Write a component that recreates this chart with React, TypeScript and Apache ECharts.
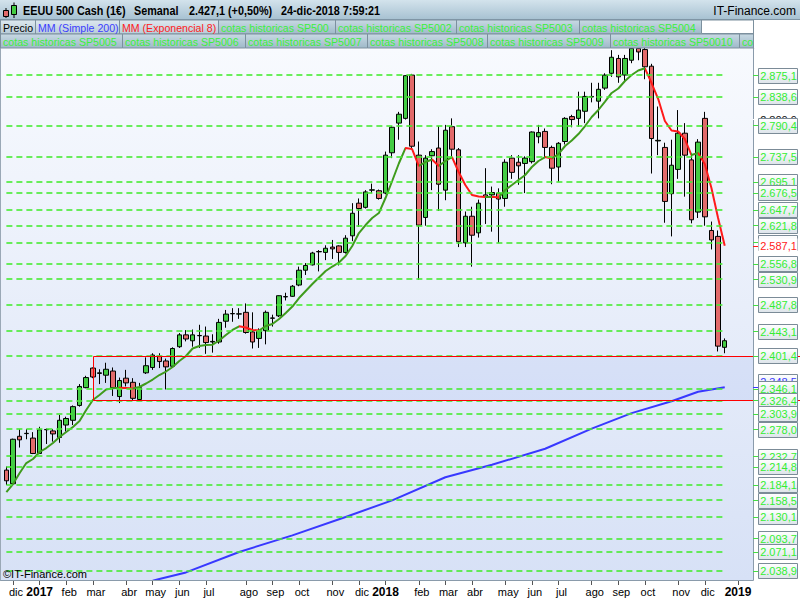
import { useEffect, useRef } from 'react';
import * as echarts from 'echarts';

// Weekly candles [open, close, low, high], week of 28-nov-2016 to week of 24-dic-2018
const ohlc: number[][] = [
  [2209, 2191, 2184, 2215], [2186, 2261, 2184, 2262], [2266, 2260, 2247, 2278], [2270.5, 2271, 2261, 2278],
  [2263, 2237, 2236, 2273], [2237, 2277, 2236, 2282], [2277, 2277.5, 2253, 2279], [2275, 2270, 2257, 2278],
  [2264, 2293, 2255, 2302], [2285, 2296, 2274, 2299], [2293, 2316, 2285, 2318], [2318, 2350, 2316, 2354],
  [2348, 2365, 2347, 2368], [2381, 2366, 2364, 2382], [2372, 2373, 2354, 2379], [2369, 2379, 2356, 2390],
  [2376, 2348, 2334, 2382], [2333, 2360, 2322, 2365], [2364, 2356, 2350, 2378], [2357, 2330, 2327, 2364],
  [2328, 2348, 2326, 2356], [2373, 2385, 2371, 2399], [2382, 2403, 2378, 2406], [2401, 2392, 2381, 2406],
  [2393, 2383, 2345, 2397], [2384, 2414, 2383, 2416], [2417, 2437, 2415, 2440], [2437, 2430, 2426, 2445],
  [2427, 2437, 2417, 2446], [2435.5, 2436, 2415, 2454], [2435, 2424, 2405, 2451], [2425, 2426, 2407, 2438],
  [2425, 2458, 2422, 2464], [2460, 2472, 2449, 2479], [2472.5, 2473, 2459, 2482], [2472, 2472.5, 2464, 2482],
  [2475, 2441, 2439, 2490], [2442, 2425, 2414, 2475], [2431, 2444, 2415, 2448], [2444, 2475, 2421, 2478],
  [2465, 2465.5, 2451, 2471], [2469, 2503, 2467, 2503.5], [2501, 2501.5, 2495, 2508], [2502, 2519, 2501, 2521],
  [2521, 2546, 2519, 2552], [2546, 2554, 2538, 2558], [2555, 2575, 2554, 2577], [2577, 2577.5, 2544, 2580],
  [2576, 2583, 2563, 2588], [2585, 2582, 2565, 2597], [2587, 2576, 2554, 2588], [2576, 2600, 2574, 2605],
  [2604, 2642, 2595, 2659], [2659, 2650, 2619, 2667], [2652, 2678, 2650, 2681], [2681, 2681.5, 2676, 2692],
  [2680, 2667, 2665, 2682], [2676, 2740, 2674, 2746], [2744, 2787, 2735, 2789], [2794, 2809, 2766, 2813],
  [2802, 2874, 2800, 2875], [2875, 2755, 2752, 2877], [2740, 2622, 2530, 2763], [2635, 2735, 2621, 2740],
  [2739, 2746, 2681, 2750], [2752, 2691, 2646, 2789], [2681, 2782, 2664, 2791], [2788, 2750, 2736, 2802],
  [2749, 2594, 2585, 2752], [2592, 2637, 2585, 2645], [2637, 2605, 2552, 2653], [2609, 2659, 2601, 2665],
  [2673, 2670, 2624, 2718], [2673, 2677, 2611, 2687], [2676, 2666, 2592, 2684], [2667, 2728, 2653, 2733],
  [2735, 2711, 2700, 2740], [2728, 2722, 2690, 2740], [2726, 2735, 2676, 2738], [2729, 2779, 2726, 2780],
  [2771, 2778, 2760, 2791], [2780, 2753, 2735, 2785], [2753, 2718, 2691, 2756], [2720, 2760, 2695, 2762],
  [2763, 2802, 2758, 2804], [2805, 2800, 2787, 2808], [2802, 2816, 2788, 2847], [2814, 2839, 2794, 2847],
  [2838, 2839, 2829, 2862], [2831, 2851, 2802, 2862], [2853, 2875, 2850, 2878], [2878, 2905, 2872, 2917],
  [2903, 2872, 2862, 2909], [2875, 2903, 2864, 2909], [2900, 2920, 2895, 2935], [2920, 2914, 2900, 2925],
  [2918, 2889, 2868, 2925], [2890, 2768, 2709, 2894], [2764, 2765, 2740, 2822], [2753, 2662, 2626, 2761],
  [2675, 2723, 2603, 2766], [2716, 2777, 2700, 2816], [2777, 2740, 2670, 2794], [2732, 2631, 2625, 2740],
  [2644, 2762, 2634, 2767], [2802, 2636, 2621, 2813], [2613, 2597, 2581, 2628], [2603, 2418, 2409, 2613],
  [2416, 2427.1, 2406, 2431],
];

// MM (Exponencial 8), read per week
const ema8 = [
  2172.0, 2185.5, 2204.1, 2220.9, 2227.7, 2239.5, 2246.2, 2254.7, 2264.8, 2273.2,
  2281.6, 2291.7, 2310.3, 2327.1, 2335.6, 2344.9, 2346.9, 2347.9, 2347.4, 2346.5,
  2349.1, 2355.0, 2361.7, 2369.3, 2375.2, 2382.8, 2392.9, 2401.3, 2414.0, 2418.2,
  2419.9, 2420.4, 2427.5, 2436.7, 2445.2, 2451.4, 2449.4, 2445.2, 2444.3, 2451.9,
  2455.3, 2463.7, 2473.8, 2484.8, 2499.1, 2510.9, 2522.7, 2533.7, 2544.6, 2552.2,
  2559.0, 2569.9, 2586.8, 2608.7, 2622.2, 2634.0, 2642.4, 2667.7, 2696.4, 2725.9,
  2752.0, 2750.3, 2721.7, 2728.4, 2732.6, 2721.7, 2730.1, 2736.8, 2711.6, 2689.6,
  2672.8, 2670.3, 2669.4, 2669.9, 2668.6, 2681.2, 2689.6, 2698.1, 2706.5, 2720.0,
  2730.1, 2736.8, 2734.3, 2741.9, 2755.4, 2764.7, 2775.6, 2789.1, 2804.3, 2816.1,
  2830.4, 2844.8, 2852.3, 2865.0, 2875.1, 2882.7, 2886.4, 2861.6, 2834.6, 2797.5,
  2781.5, 2779.8, 2767.2, 2740.2, 2743.6, 2725.0, 2684.6, 2634.0, 2587.1,
];

// MM (Simple 200): points [weekIndex, value]
const sma200Points: number[][] = [
  [22, 2022.5], [23, 2025.3], [27, 2036.5], [35, 2071], [43, 2099], [51, 2130], [58, 2158],
  [66, 2197], [73, 2218], [81, 2245], [88, 2279], [94, 2305], [100, 2325], [104, 2341], [108, 2348.5],
];

// cotas historicas levels
const levels = [
  2875.1, 2838.6, 2790.4, 2737.5, 2695.1, 2676.5, 2647.7, 2621.8, 2592.9, 2556.8, 2530.9, 2487.8, 2443.1,
  2401.4, 2346.1, 2326.4, 2303.9, 2278.0, 2232.7, 2214.8, 2184.1, 2158.5, 2130.1, 2093.7, 2071.1, 2038.9,
];
const hiddenLevels = [2592.9];
const hiddenBlackLabel = 2800.9;
const smaLast = 2348.5;
const emaLast = 2587.1;
const rangeHigh = 2401.4;
const rangeLow = 2326.4;
const rangeStartWeek = 13;

const tickIdx = [1, 5, 9, 13, 18, 22, 26, 30, 36, 40, 44, 49, 53, 57, 62, 66, 70, 75, 79, 83, 88, 92, 96, 101, 105, 110];
const tickText = ['dic', '2017', 'feb', 'mar', 'abr', 'may', 'jun', 'jul', 'ago', 'sep', 'oct', 'nov', 'dic', '2018',
  'feb', 'mar', 'abr', 'may', 'jun', 'jul', 'ago', 'sep', 'oct', 'nov', 'dic', '2019'];

const headerTexts = ['EEUU 500 Cash (1€)', 'Semanal', '2.427,1 (+0,50%)', '24-dic-2018 7:59:21'];
const tabsRow1 = ['Precio', 'MM (Simple 200)', 'MM (Exponencial 8)', 'cotas historicas SP500', 'cotas historicas SP5002',
  'cotas historicas SP5003', 'cotas historicas SP5004'];
const tabsRow2 = ['cotas historicas SP5005', 'cotas historicas SP5006', 'cotas historicas SP5007', 'cotas historicas SP5008',
  'cotas historicas SP5009', 'cotas historicas SP50010', 'cotas historicas SP50011'];

const FONT = "'Liberation Sans', Arial, sans-serif";
const TOTAL_WEEKS = 113;
const START = Date.UTC(2016, 10, 28);

function fmt(v: number) {
  const [a, b] = v.toFixed(1).split('.');
  return a.replace(/\B(?=(\d{3})+(?!\d))/g, '.') + ',' + b;
}

export default function App() {
  const ref = useRef<HTMLDivElement>(null);

  useEffect(() => {
    const el = ref.current!;
    const chart = echarts.init(el, null, { renderer: 'svg' });

    const weeks = Array.from({ length: TOTAL_WEEKS }, (_, i) =>
      new Date(START + i * 7 * 86400000).toISOString().slice(0, 10));
    const tickMap = new Map<number, string>(tickIdx.map((i, k) => [i, tickText[k]]));

    const sma: (number | null)[] = ohlc.map(() => null);
    sma200Points.forEach(([i, v]) => { sma[i] = v; });

    // colour pieces for the EMA (green rising, red falling)
    const pieces: any[] = [];
    let runStart = 0;
    let runUp = ema8[1] >= ema8[0];
    for (let i = 1; i < ema8.length - 1; i++) {
      const up = ema8[i + 1] >= ema8[i];
      if (up !== runUp) {
        pieces.push({ gte: runStart, lt: i, color: runUp ? '#3f9b1d' : '#ff1a1a' });
        runStart = i;
        runUp = up;
      }
    }
    pieces.push({ gte: runStart, lte: ema8.length, color: runUp ? '#3f9b1d' : '#ff1a1a' });

    const levelLineData = levels.map((v) => [{ coord: [0, v] }, { coord: [ohlc.length - 1, v] }]);

    chart.setOption({
      animation: false,
      backgroundColor: '#ffffff',
      grid: { left: 2.67, top: 48.5, width: 752, height: 531.5, containLabel: false },
      xAxis: {
        type: 'category',
        data: weeks,
        boundaryGap: true,
        axisLine: { show: false },
        splitLine: { show: false },
        axisTick: {
          show: true,
          alignWithLabel: true,
          length: 5,
          interval: (i: number) => tickMap.has(i),
          lineStyle: { color: '#555', width: 1 },
        },
        axisLabel: {
          interval: (i: number) => tickMap.has(i),
          margin: 5,
          formatter: (_v: string, i: number) => {
            const t = tickMap.get(i) || '';
            return /^\d{4}$/.test(t) ? `{y|${t}}` : `{m|${t}}`;
          },
          rich: {
            m: { fontSize: 11, fontFamily: FONT, color: '#000', padding: [0, 0, 0, 6], lineHeight: 14 },
            y: { fontSize: 12, fontWeight: 'bold', fontFamily: FONT, color: '#000', lineHeight: 14 },
          },
        },
      },
      yAxis: { type: 'value', min: 2023.7, max: 2919.8, show: false, splitLine: { show: false } },
      visualMap: {
        type: 'piecewise',
        show: false,
        dimension: 0,
        seriesIndex: 2,
        pieces,
        outOfRange: { color: '#3f9b1d' },
      },
      series: [
        {
          type: 'line',
          data: [],
          z: 1,
          silent: true,
          markLine: {
            silent: true,
            symbol: ['none', 'none'],
            label: { show: false },
            lineStyle: { color: 'rgba(70,235,50,0.8)', width: 2, type: [6, 4] },
            data: levelLineData,
          },
        },
        {
          type: 'candlestick',
          data: ohlc,
          barWidth: 5,
          z: 2,
          itemStyle: {
            color: '#44cc44', color0: '#e26a6a', borderColor: '#000', borderColor0: '#000', borderWidth: 1,
          },
        },
        {
          type: 'line',
          data: ema8,
          symbol: 'none',
          z: 3,
          lineStyle: { width: 2 },
        },
        {
          type: 'line',
          data: sma,
          connectNulls: true,
          symbol: 'none',
          z: 3,
          lineStyle: { width: 2, color: '#3838ff' },
          itemStyle: { color: '#3838ff' },
        },
      ],
    });

    const px = (i: number) => chart.convertToPixel({ xAxisIndex: 0 }, i) as number;
    const py = (v: number) => chart.convertToPixel({ yAxisIndex: 0 }, v) as number;

    const g: any[] = [];
    let z = 50;
    const boxFill = () => new echarts.graphic.LinearGradient(0, 0, 0, 1, [
      { offset: 0, color: '#ffffff' }, { offset: 1, color: '#dde4ea' },
    ]);

    // plot background
    g.push({
      type: 'rect', z: -10, silent: true,
      shape: { x: 0, y: 48.5, width: 753, height: 531.5 },
      style: {
        fill: new echarts.graphic.LinearGradient(0, 0, 0, 1, [
          { offset: 0, color: '#f8fafe' }, { offset: 1, color: '#d7e1f6' },
        ]),
      },
    });

    // range rectangle
    const rx = Math.round(px(rangeStartWeek)) + 0.5;
    const ryT = Math.round(py(rangeHigh)) + 0.5;
    const ryB = Math.round(py(rangeLow)) + 0.5;
    g.push({
      type: 'rect', z: -5, silent: true,
      shape: { x: rx, y: ryT, width: 753 - rx, height: ryB - ryT },
      style: { fill: 'rgba(140,170,235,0.16)' },
    });
    g.push({ type: 'line', z: 40, shape: { x1: rx, y1: ryT, x2: 800, y2: ryT }, style: { stroke: '#ff0000', lineWidth: 1 } });
    g.push({ type: 'line', z: 40, shape: { x1: rx, y1: ryB, x2: 800, y2: ryB }, style: { stroke: '#ff0000', lineWidth: 1 } });
    g.push({ type: 'line', z: 40, shape: { x1: rx, y1: ryT, x2: rx, y2: ryB }, style: { stroke: '#ff0000', lineWidth: 1 } });

    // frame lines
    g.push({ type: 'line', z: 45, shape: { x1: 753.5, y1: 48, x2: 753.5, y2: 580.5 }, style: { stroke: '#8a9bab', lineWidth: 1 } });
    g.push({ type: 'line', z: 45, shape: { x1: 0, y1: 580.5, x2: 753.5, y2: 580.5 }, style: { stroke: '#8a9bab', lineWidth: 1 } });
    g.push({ type: 'line', z: 45, shape: { x1: 0.5, y1: 48, x2: 0.5, y2: 580.5 }, style: { stroke: '#9aa8b6', lineWidth: 1 } });

    const addLabel = (v: number, text: string, color: string, opt: { box?: boolean; tick?: string; dy?: number } = {}) => {
      const cy = py(v) + (opt.dy || 0);
      const yy = Math.round(py(v)) + 0.5;
      const top = Math.round(cy - 7.5) + 0.5;
      z += 1;
      g.push({ type: 'line', z, shape: { x1: 753, y1: yy, x2: 758, y2: yy }, style: { stroke: opt.tick || '#44dd44', lineWidth: 1 } });
      g.push({
        type: 'rect', z,
        shape: { x: 758.5, y: top, width: 39, height: 15 },
        style: opt.box === false ? { fill: '#ffffff' } : { fill: boxFill(), stroke: '#7b8b97', lineWidth: 1 },
      });
      g.push({
        type: 'text', z,
        style: { text, x: 778.5, y: top + 7.5, align: 'center', verticalAlign: 'middle', fill: color, font: `11px ${FONT}` },
      });
    };

    addLabel(hiddenBlackLabel, fmt(hiddenBlackLabel), '#111', { box: false, tick: '#ffffff' });
    hiddenLevels.forEach((v) => addLabel(v, fmt(v), '#33ee33'));
    addLabel(smaLast, fmt(smaLast), '#3838ff', { tick: '#3838ff', dy: -6 });
    levels.filter((v) => !hiddenLevels.includes(v)).forEach((v) => addLabel(v, fmt(v), '#33ee33'));
    addLabel(emaLast, fmt(emaLast), '#ff1a1a', { box: false, tick: '#ff1a1a' });

    // copyright
    g.push({ type: 'text', z: 46, style: { text: '©IT-Finance.com', x: 3, y: 574, verticalAlign: 'middle', fill: '#000', font: `11px ${FONT}` } });

    // header row 1
    g.push({
      type: 'rect', z: 200,
      shape: { x: 0, y: 0, width: 800, height: 19 },
      style: {
        fill: new echarts.graphic.LinearGradient(0, 0, 0, 1, [
          { offset: 0, color: '#d3e3ec' }, { offset: 1, color: '#a8c2d2' },
        ]),
      },
    });
    g.push({ type: 'line', z: 201, shape: { x1: 0, y1: 19.5, x2: 800, y2: 19.5 }, style: { stroke: '#7f95a5', lineWidth: 1 } });
    // icon
    g.push({ type: 'line', z: 201, shape: { x1: 6, y1: 8, x2: 6, y2: 18 }, style: { stroke: '#000', lineWidth: 1 } });
    g.push({ type: 'rect', z: 202, shape: { x: 3.5, y: 10.5, width: 5, height: 6 }, style: { fill: '#e26a6a', stroke: '#000', lineWidth: 1 } });
    g.push({ type: 'line', z: 201, shape: { x1: 14, y1: 2.5, x2: 14, y2: 18 }, style: { stroke: '#000', lineWidth: 1 } });
    g.push({ type: 'rect', z: 202, shape: { x: 11.5, y: 5.5, width: 5, height: 9 }, style: { fill: '#44cc44', stroke: '#000', lineWidth: 1 } });
    const hx = [23, 134, 189, 281];
    headerTexts.forEach((t, k) => g.push({
      type: 'text', z: 202, x: hx[k], y: 11, scaleX: 0.9,
      style: { text: t, x: 0, y: 0, verticalAlign: 'middle', fill: '#000', font: `bold 12px ${FONT}` },
    }));
    g.push({
      type: 'text', z: 202,
      style: { text: 'IT-Finance.com', x: 796, y: 11, align: 'right', verticalAlign: 'middle', fill: '#000', font: `12px ${FONT}` },
    });

    // tab rows
    const tabFill = (light: boolean) => new echarts.graphic.LinearGradient(0, 0, 0, 1, light
      ? [{ offset: 0, color: '#dde8ef' }, { offset: 1, color: '#b8ccd8' }]
      : [{ offset: 0, color: '#c8d9e3' }, { offset: 1, color: '#9fb9c9' }]);
    const row1W = [35, 84, 99, 117, 121, 123, 122];
    const row2W = [122, 123, 122, 120, 123, 129, 15];
    const tabColor = (t: string) => t === 'Precio' ? '#000' : t.startsWith('MM (S') ? '#3c3cff' : t.startsWith('MM (E') ? '#ff2020' : '#3cf03c';
    const drawRow = (tabs: string[], widths: number[], y: number, h: number) => {
      let x = 0;
      tabs.forEach((t, k) => {
        const w = widths[k];
        const last = x + w > 740;
        g.push({
          type: 'rect', z: 200,
          shape: { x: x + 0.5, y: y + 0.5, width: w, height: h },
          style: { fill: tabFill(k < 3 && y < 30), stroke: '#7c909e', lineWidth: 1 },
        });
        const style: any = {
          text: t, x: x + 3, y: y + h / 2 + 1, verticalAlign: 'middle', fill: tabColor(t), font: `10.6px ${FONT}`,
        };
        if (last) Object.assign(style, { width: w - 2, overflow: 'truncate', ellipsis: '' });
        g.push({ type: 'text', z: 201, style });
        x += w;
      });
    };
    drawRow(tabsRow1, row1W, 19.5, 14);
    drawRow(tabsRow2, row2W, 33.5, 14);
    // white area right of the tabs
    g.push({ type: 'rect', z: 203, shape: { x: 701.5, y: 20, width: 52, height: 13.5 }, style: { fill: '#ffffff', stroke: '#7c909e', lineWidth: 1 } });
    g.push({ type: 'rect', z: 203, shape: { x: 754, y: 20, width: 46, height: 28.5 }, style: { fill: '#ffffff' } });
    g.push({ type: 'line', z: 204, shape: { x1: 753.5, y1: 20, x2: 753.5, y2: 48 }, style: { stroke: '#7c909e', lineWidth: 1 } });

    chart.setOption({ graphic: g });

    return () => chart.dispose();
  }, []);

  return <div ref={ref} style={{ position: 'absolute', left: 0, top: 0, width: 800, height: 600 }} />;
}
